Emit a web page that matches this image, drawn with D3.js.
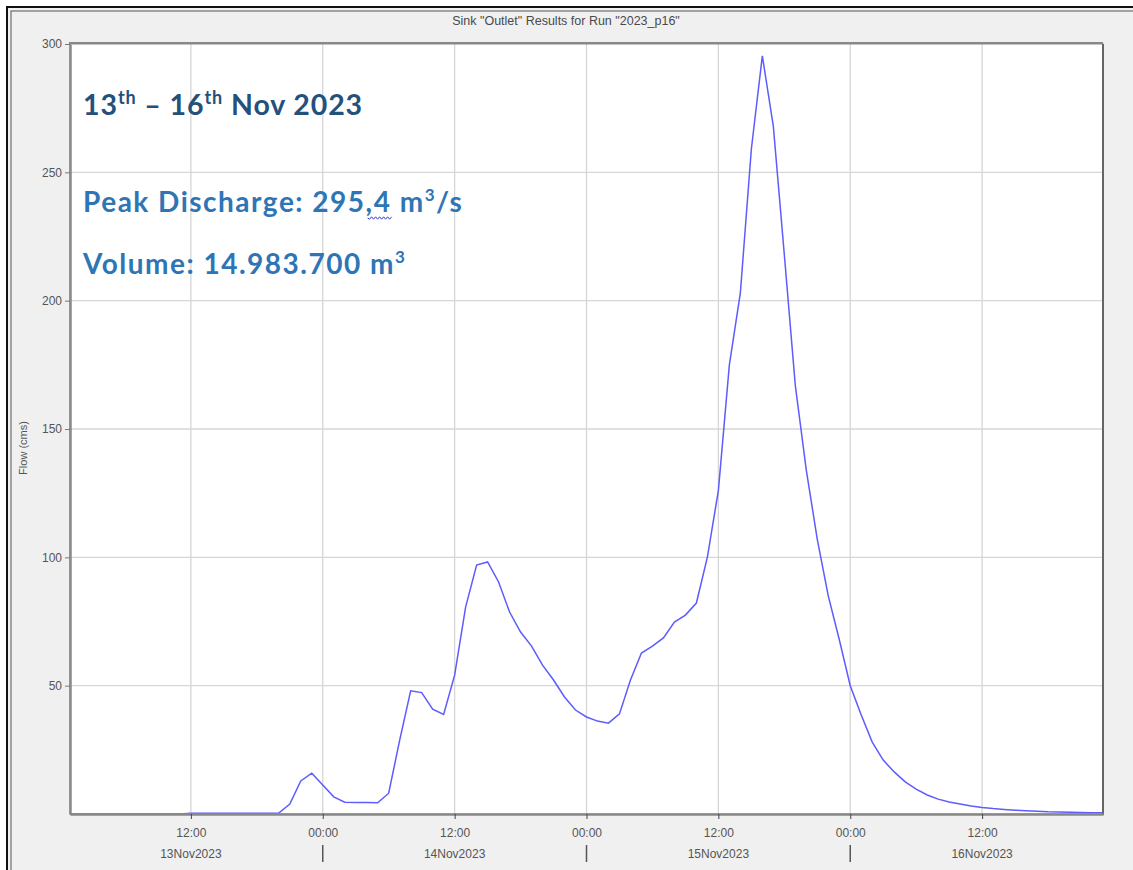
<!DOCTYPE html>
<html>
<head>
<meta charset="utf-8">
<script src="https://cdn.jsdelivr.net/npm/d3@7/dist/d3.min.js"></script>
<style>
  html, body { margin: 0; padding: 0; background: #ffffff; }
  svg { display: block; }
</style>
</head>
<body>
<svg id="chart" width="1133" height="870"></svg>
<script>
// Hourly outflow at the sink "Outlet", run 2023_p16 (m3/s), starting 13 Nov 2023 01:00
const seriesStart = "2023-11-13T01:00:00Z";
const flowValues = [
  0, 0, 0, 0, 0, 0, 0, 0, 0, 0, 0,
  0.3, 0.3, 0.3, 0.3, 0.3, 0.3, 0.3, 0.3, 0.4,
  3.9, 12.9, 15.9, 11.3, 6.7, 4.6, 4.5, 4.5, 4.4, 8.1,
  28.8, 48.0, 47.3, 40.8, 38.8, 54.1, 80.6, 97.0, 98.2, 90.4,
  78.7, 70.9, 65.4, 58.0, 52.2, 45.6, 40.5, 37.8, 36.2, 35.4,
  39.0, 52.2, 62.7, 65.4, 68.6, 74.8, 77.5, 82.2, 100.1, 126.0,
  175.0, 203.0, 259.0, 295.4, 268.0, 218.0, 167.0, 134.0, 107.0, 85.0,
  68.0, 50.0, 38.6, 28.0, 21.0, 16.4, 12.5, 9.7, 7.4, 5.8,
  4.7, 3.9, 3.1, 2.5, 2.1, 1.8, 1.5, 1.3, 1.1, 0.9,
  0.8, 0.7, 0.6, 0.5, 0.5
];
const yTickValues = [50, 100, 150, 200, 250, 300];
const xTickTimes = [
  "2023-11-13T12:00:00Z", "2023-11-14T00:00:00Z", "2023-11-14T12:00:00Z",
  "2023-11-15T00:00:00Z", "2023-11-15T12:00:00Z", "2023-11-16T00:00:00Z",
  "2023-11-16T12:00:00Z"
];
const chartTitle = 'Sink "Outlet" Results for Run "2023_p16"';
const yAxisTitle = "Flow (cms)";
const peakDischarge = "295,4";
const eventVolume = "14.983.700";

const svg = d3.select("#chart");
const W = 1133, H = 870;
const plot = { left: 70, right: 1103, top: 44, bottom: 814 };

const t0 = new Date(seriesStart);
const points = flowValues.map((v, i) => ({ t: d3.utcHour.offset(t0, i), v }));

const x = d3.scaleUtc()
  .domain([points[0].t, points[points.length - 1].t])
  .range([plot.left, plot.right]);
const y = d3.scaleLinear().domain([0, 300]).range([plot.bottom, plot.top]);

// window frame and panel
svg.append("rect").attr("x", 0).attr("y", 0).attr("width", W).attr("height", H).attr("fill", "#ffffff");
svg.append("rect").attr("x", 7).attr("y", 7).attr("width", W).attr("height", H)
  .attr("fill", "#f0f0f0").attr("stroke", "#111").attr("stroke-width", 2);
svg.append("rect").attr("x", 11).attr("y", 11).attr("width", W).attr("height", H)
  .attr("fill", "#f0f0f0").attr("stroke", "#555").attr("stroke-width", 1);

// plot background
svg.append("rect")
  .attr("x", plot.left).attr("y", plot.top)
  .attr("width", plot.right - plot.left).attr("height", plot.bottom - plot.top)
  .attr("fill", "#ffffff");

// title
svg.append("text")
  .attr("x", 566).attr("y", 25)
  .attr("text-anchor", "middle")
  .attr("font-family", "'Liberation Sans', Arial, sans-serif")
  .attr("font-size", 12.5).attr("fill", "#4a4a4a")
  .text(chartTitle);

const xTicks = xTickTimes.map(s => new Date(s));

// grid
const grid = svg.append("g").attr("stroke", "#d6d6d6").attr("stroke-width", 1.3);
grid.selectAll("line.gx").data(xTicks).join("line")
  .attr("x1", d => x(d)).attr("x2", d => x(d))
  .attr("y1", plot.top).attr("y2", plot.bottom);
grid.selectAll("line.gy").data(yTickValues.filter(v => v < 300)).join("line")
  .attr("x1", plot.left).attr("x2", plot.right)
  .attr("y1", d => y(d)).attr("y2", d => y(d));

// annotation text
const ann = svg.append("g").attr("font-family", "Lato, 'Open Sans', sans-serif").attr("font-weight", 700);
const t1 = ann.append("text").attr("x", 83).attr("y", 115).attr("font-size", 28.5)
  .attr("letter-spacing", 0.9).attr("fill", "#24507c");
t1.append("tspan").text("13");
t1.append("tspan").attr("font-size", 18).attr("dy", -11).text("th");
t1.append("tspan").attr("dy", 11).text(" – 16");
t1.append("tspan").attr("font-size", 18).attr("dy", -11).text("th");
t1.append("tspan").attr("dy", 11).text(" Nov 2023");

const t2 = ann.append("text").attr("x", 83).attr("y", 212).attr("font-size", 28)
  .attr("letter-spacing", 1.5).attr("fill", "#2e75b6");
t2.append("tspan").text("Peak Discharge: " + peakDischarge.split(",")[0]);
const commaPart = t2.append("tspan").text("," + peakDischarge.split(",")[1]);
t2.append("tspan").text(" m");
t2.append("tspan").attr("font-size", 17).attr("dy", -11).text("3");
t2.append("tspan").attr("dy", 11).text("/s");

const t3 = ann.append("text").attr("x", 83).attr("y", 274).attr("font-size", 28)
  .attr("letter-spacing", 1.5).attr("fill", "#2e75b6");
t3.append("tspan").text("Volume: " + eventVolume + " m");
t3.append("tspan").attr("font-size", 17).attr("dy", -11).text("3");

// spell-check squiggle under the decimal part of the peak value
{
  const node = commaPart.node();
  const n = node.getNumberOfChars();
  const sx = node.getStartPositionOfChar(0).x + 2;
  const ex = node.getEndPositionOfChar(n - 1).x;
  const sy = 218;
  let d = `M${sx},${sy}`;
  for (let px = sx, k = 0; px < ex; px += 2, k++) d += `L${px + 2},${sy + (k % 2 ? -1.2 : 1.2)}`;
  svg.append("path").attr("d", d).attr("fill", "none").attr("stroke", "#3b3bd6").attr("stroke-width", 1);
}

// flow line
svg.append("path")
  .datum(points)
  .attr("fill", "none")
  .attr("stroke", "#5c5cff")
  .attr("stroke-width", 1.5)
  .attr("d", d3.line().x(d => x(d.t)).y(d => y(d.v)));

// plot frame
svg.append("rect")
  .attr("x", plot.left).attr("y", plot.top)
  .attr("width", plot.right - plot.left).attr("height", plot.bottom - plot.top)
  .attr("fill", "none").attr("stroke", "#8a8a8a").attr("stroke-width", 1);
svg.append("line").attr("x1", plot.right).attr("x2", plot.right).attr("y1", plot.top).attr("y2", plot.bottom + 1)
  .attr("stroke", "#666").attr("stroke-width", 2);
svg.append("line").attr("x1", plot.left - 1).attr("x2", plot.right).attr("y1", plot.top - 1).attr("y2", plot.top - 1)
  .attr("stroke", "#888").attr("stroke-width", 2);

// y axis
const yAxis = svg.append("g")
  .attr("transform", `translate(${plot.left},0)`)
  .call(d3.axisLeft(y).tickValues(yTickValues).tickSize(5).tickPadding(3).tickSizeOuter(0));
yAxis.select(".domain").attr("stroke", "#888").attr("stroke-width", 2.5);
yAxis.selectAll(".tick line").attr("stroke", "#777");
yAxis.selectAll(".tick text")
  .attr("font-family", "'Liberation Sans', Arial, sans-serif")
  .attr("font-size", 12).attr("fill", "#555");

svg.append("text")
  .attr("transform", "translate(27,448) rotate(-90)")
  .attr("text-anchor", "middle")
  .attr("font-family", "'Liberation Sans', Arial, sans-serif")
  .attr("font-size", 11).attr("fill", "#555")
  .text(yAxisTitle);

// x axis
const xAxis = svg.append("g")
  .attr("transform", `translate(0,${plot.bottom})`)
  .call(d3.axisBottom(x).tickValues(xTicks).tickSize(5).tickPadding(9).tickSizeOuter(0)
    .tickFormat(d3.utcFormat("%H:%M")));
xAxis.select(".domain").attr("stroke", "#888").attr("stroke-width", 2.5);
xAxis.selectAll(".tick line").attr("stroke", "#444");
xAxis.selectAll(".tick text")
  .attr("font-family", "'Liberation Sans', Arial, sans-serif")
  .attr("font-size", 12).attr("fill", "#555");

// date row: day name under noon ticks, separator bar under midnight ticks
const dateRow = svg.append("g")
  .attr("font-family", "'Liberation Sans', Arial, sans-serif")
  .attr("font-size", 12).attr("fill", "#555");
xTicks.forEach(t => {
  if (t.getUTCHours() === 12) {
    dateRow.append("text").attr("x", x(t)).attr("y", 858).attr("text-anchor", "middle")
      .text(d3.utcFormat("%d%b%Y")(t));
  } else {
    dateRow.append("line").attr("x1", x(t)).attr("x2", x(t)).attr("y1", 845).attr("y2", 862)
      .attr("stroke", "#555").attr("stroke-width", 1.5);
  }
});
</script>
</body>
</html>
